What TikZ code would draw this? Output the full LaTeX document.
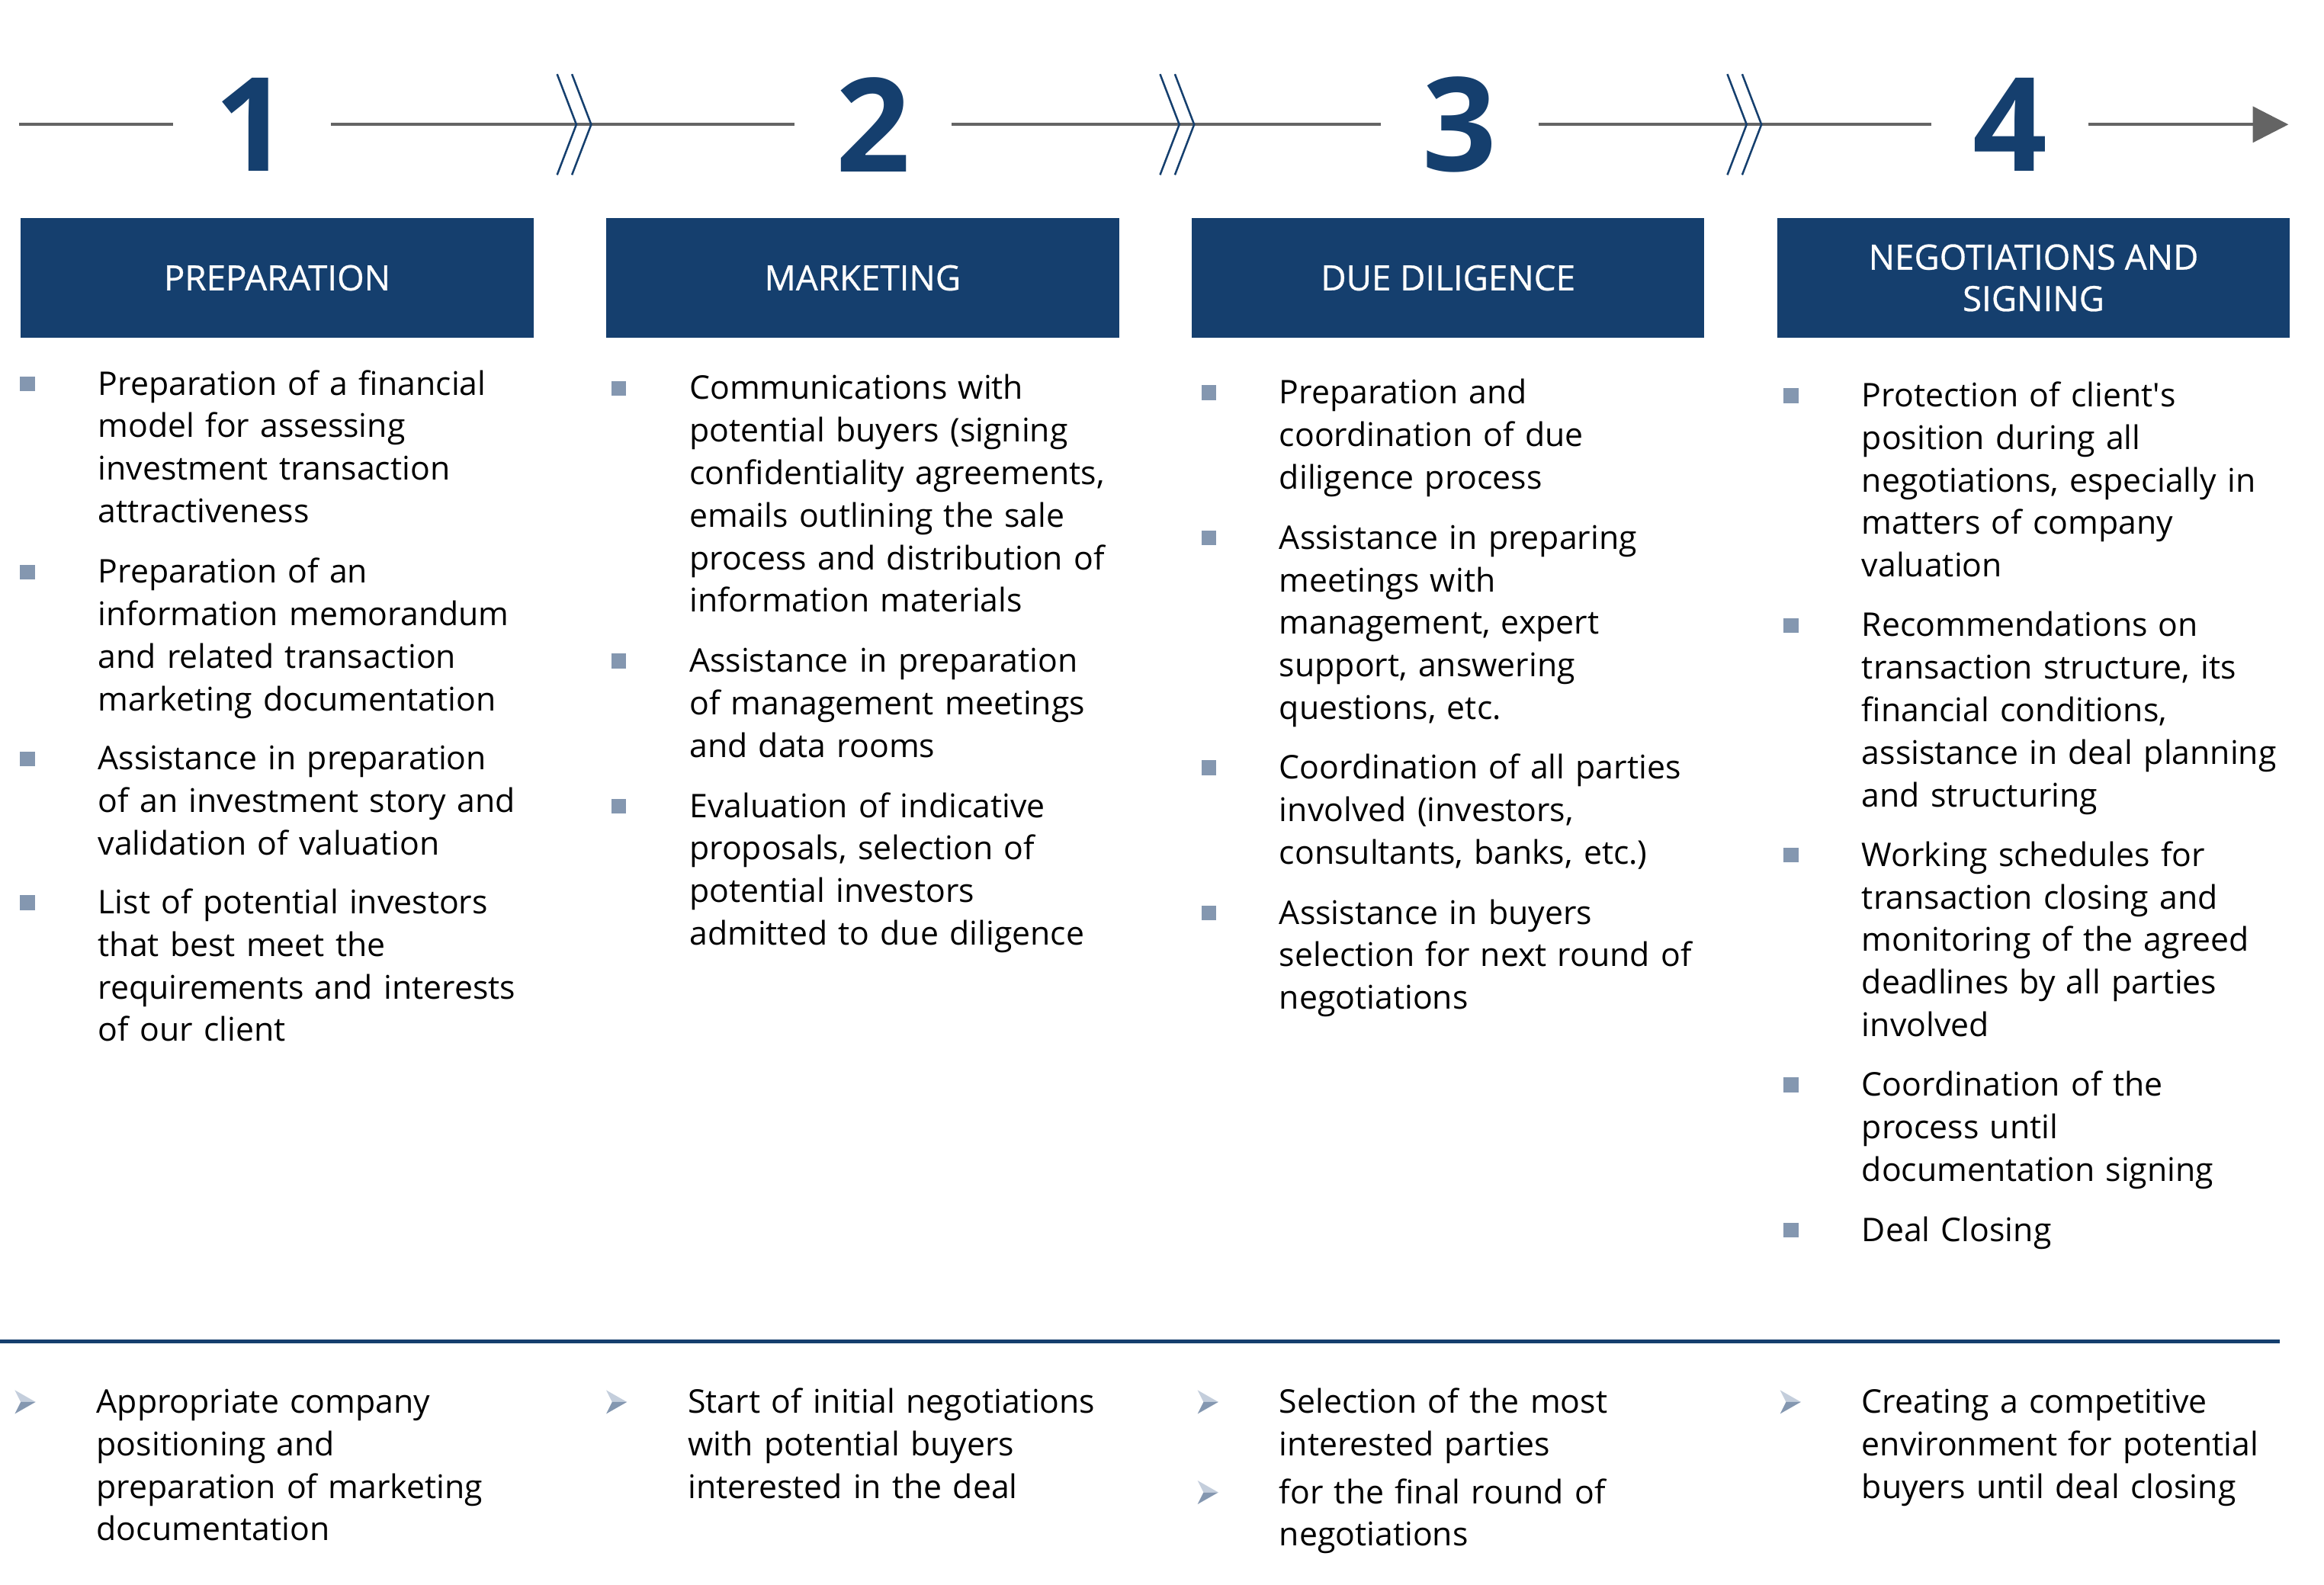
\documentclass[tikz,border=0pt]{standalone}
\usepackage{fontspec}
\setmainfont{Open Sans}
\newfontfamily\headfont{Open Sans}[FakeBold=0.6]
\usetikzlibrary{positioning,calc,arrows.meta}

\definecolor{navy}{RGB}{21,63,110}
\definecolor{linegray}{RGB}{100,100,100}
\definecolor{bulletgray}{RGB}{132,151,176}
\definecolor{bulletlight}{RGB}{196,206,220}

% square bullet + item text: name, x, y (middle of first line), text
\newcommand{\sqitem}[4]{%
  \fill[bulletgray] (#2-52.5,#3-5) rectangle ++(10,10);
  \node[itemtext] (#1) at (#2,#3+7.5) {#4};}
% arrow bullet + item text
\newcommand{\arritem}[4]{%
  \fill[bulletlight] (#2-55,#3-8) -- (#2-41,#3) -- (#2-51,#3) -- cycle;
  \fill[bulletgray] (#2-51,#3) -- (#2-41,#3) -- (#2-55,#3+8) -- cycle;
  \node[itemtext] (#1) at (#2,#3+7.5) {#4};}

\begin{document}
\begin{tikzpicture}[x=1pt,y=-1pt,
      stepnum/.style={font=\fontsize{88}{88}\selectfont\bfseries,text=navy,
        minimum width=106pt,inner sep=0pt},
      stepline/.style={linegray,line width=2.2pt},
      chev/.style={navy,line width=1.3pt},
      header/.style={fill=navy,text=white,minimum width=346pt,minimum height=81pt,
        inner sep=0pt,align=center,font=\headfont\fontsize{23.5}{28}\selectfont},
      itemtext/.style={anchor=base west,inner sep=0pt,text width=380pt,align=left,
        font=\fontsize{22}{28.7}\selectfont}]

  \useasboundingbox (0,0) rectangle (1568,1069);

  % step numbers and the line through them
  \node[stepnum] (n1) at (170,84) {1};
  \node[stepnum] (n2) at (589,84) {2};
  \node[stepnum] (n3) at (985,84) {3};
  \node[stepnum] (n4) at (1356,84) {4};
  \coordinate (start) at (13,84);
  \coordinate (end) at (1544,84);

  \draw[stepline] (start) -- (n1);
  \draw[stepline] (n1) -- (n2);
  \draw[stepline] (n2) -- (n3);
  \draw[stepline] (n3) -- (n4);
  \draw[stepline,-{Triangle[length=24pt,width=24pt]}] (n4) -- (end);

  \foreach \a/\b in {n1/n2,n2/n3,n3/n4}{
    \draw[chev] ($(\a.east)!0.53!(\b.west)$) ++(-13,-34) -- ++(13,34) -- ++(-13,34);
    \draw[chev] ($(\a.east)!0.53!(\b.west)$) ++(-3,-34) -- ++(13,34) -- ++(-13,34);
  }

  % phase headers
  \node[header] (h1) at (187,187.5) {PREPARATION};
  \node[header] (h2) at (582,187.5) {MARKETING};
  \node[header] (h3) at (977,187.5) {DUE DILIGENCE};
  \node[header] (h4) at (1372,187.5) {NEGOTIATIONS AND\\SIGNING};

  % preparation
  \sqitem{p1}{66}{259}{Preparation of a financial\\model for assessing\\investment transaction\\attractiveness}
  \sqitem{p2}{66}{386}{Preparation of an\\information memorandum\\and related transaction\\marketing documentation}
  \sqitem{p3}{66}{512}{Assistance in preparation\\of an investment story and\\validation of valuation}
  \sqitem{p4}{66}{609}{List of potential investors\\that best meet the\\requirements and interests\\of our client}

  % marketing
  \sqitem{m1}{465}{262}{Communications with\\potential buyers (signing\\confidentiality agreements,\\emails outlining the sale\\process and distribution of\\information materials}
  \sqitem{m2}{465}{446}{Assistance in preparation\\of management meetings\\and data rooms}
  \sqitem{m3}{465}{544}{Evaluation of indicative\\proposals, selection of\\potential investors\\admitted to due diligence}

  % due diligence
  \sqitem{d1}{863}{265}{Preparation and\\coordination of due\\diligence process}
  \sqitem{d2}{863}{363}{Assistance in preparing\\meetings with\\management, expert\\support, answering\\questions, etc.}
  \sqitem{d3}{863}{518}{Coordination of all parties\\involved (investors,\\consultants, banks, etc.)}
  \sqitem{d4}{863}{616}{Assistance in buyers\\selection for next round of\\negotiations}

  % negotiations and signing
  \sqitem{s1}{1256}{267}{Protection of client\textquotesingle s\\position during all\\negotiations, especially in\\matters of company\\valuation}
  \sqitem{s2}{1256}{422}{Recommendations on\\transaction structure, its\\financial conditions,\\assistance in deal planning\\and structuring}
  \sqitem{s3}{1256}{577}{Working schedules for\\transaction closing and\\monitoring of the agreed\\deadlines by all parties\\involved}
  \sqitem{s4}{1256}{732}{Coordination of the\\process until\\documentation signing}
  \sqitem{s5}{1256}{830}{Deal Closing}

  % results
  \coordinate (rule0) at (0,905);
  \coordinate (rule1) at (1538,905);
  \draw[navy,line width=2.5pt] (rule0) -- (rule1);

  \arritem{r1}{65}{946}{Appropriate company\\positioning and\\preparation of marketing\\documentation}
  \arritem{r2}{464}{946}{Start of initial negotiations\\with potential buyers\\interested in the deal}
  \arritem{r3}{863}{946}{Selection of the most\\interested parties}
  \arritem{r4}{863}{1007}{for the final round of\\negotiations}
  \arritem{r5}{1256}{946}{Creating a competitive\\environment for potential\\buyers until deal closing}

\end{tikzpicture}
\end{document}
